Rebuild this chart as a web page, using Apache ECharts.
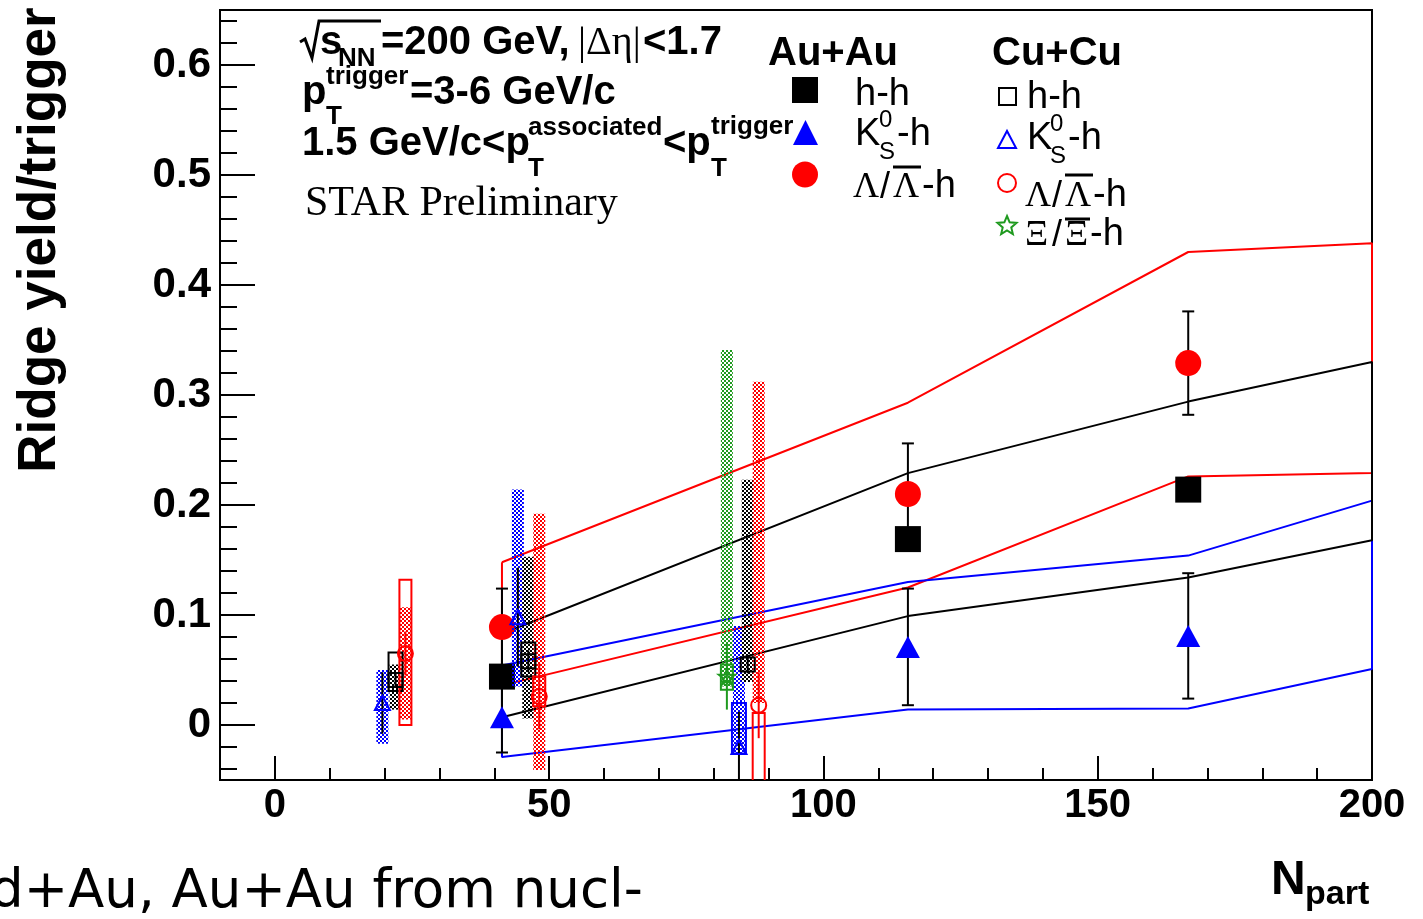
<!DOCTYPE html>
<html>
<head>
<meta charset="utf-8">
<title>Ridge yield/trigger vs Npart</title>
<script src="https://cdn.jsdelivr.net/npm/echarts@6/dist/echarts.min.js"></script>
<style>
    html, body { margin: 0; padding: 0; background: #fff; }
    #chart { width: 1423px; height: 919px; }
</style>
</head>
<body>
<div id="chart"></div>
<script>
// axis tick labels
var xTicks = [0, 50, 100, 150, 200];
var yTicks = [0, 0.1, 0.2, 0.3, 0.4, 0.5, 0.6];

// Au+Au points (filled markers) with stat errors
var auNpart = [41.4, 115.4, 166.5];
var auHH = [0.044, 0.169, 0.214];
var auHHErr = [0.004, 0.004, 0.004];
var auK0 = [0.007, 0.071, 0.081];
var auK0Err = [0.032, 0.053, 0.057];
var auLam = [0.089, 0.210, 0.329];
var auLamErr = [0.035, 0.046, 0.047];

// Au+Au systematic bands (upper / lower edges)
var bandNpart = [41.4, 115.4, 166.5, 200];
var hhUp = [0.083, 0.229, 0.294, 0.330];
var hhLo = [0.007, 0.099, 0.134, 0.168];
var k0Up = [0.054, 0.130, 0.154, 0.204];
var k0Lo = [-0.029, 0.014, 0.015, 0.051];
var lamUp = [0.148, 0.293, 0.430, 0.438];
var lamLo = [0.036, 0.125, 0.226, 0.229];

// Cu+Cu points (open markers)
var cuHHNpart = [22.0, 46.2, 86.2];
var cuHH = [0.041, 0.058, 0.055];
var cuHHErr = [0.006, 0.010, 0.008];
var cuHHSysLo = [0.014, 0.006, 0.039];
var cuHHSysHi = [0.055, 0.153, 0.223];
var cuHHBoxNpart = [22.0, 46.2];
var cuHHBoxLo = [0.031, 0.044];
var cuHHBoxHi = [0.066, 0.075];

var cuK0Npart = [19.6, 44.3, 84.6];
var cuK0 = [0.020, 0.098, -0.020];
var cuK0Err = [0.028, 0.045, 0.032];
var cuK0SysLo = [-0.017, 0.035, -0.026];
var cuK0SysHi = [0.050, 0.214, 0.090];
var cuK0BoxNpart = [84.6];
var cuK0BoxLo = [-0.026];
var cuK0BoxHi = [0.020];

var cuLamNpart = [23.8, 48.2, 88.2];
var cuLam = [0.065, 0.026, 0.018];
var cuLamErr = [0.020, 0.030, 0.030];
var cuLamSysLo = [0.005, -0.041, 0.020];
var cuLamSysHi = [0.107, 0.192, 0.312];
var cuLamBoxLo = [0.0, 0.017, -0.080];
var cuLamBoxHi = [0.132, 0.044, 0.011];

var cuXiNpart = [82.4];
var cuXi = [0.044];
var cuXiErr = [0.030];
var cuXiSysLo = [0.035];
var cuXiSysHi = [0.341];
var cuXiBoxLo = [0.032];
var cuXiBoxHi = [0.055];

var RED = "#ff0000", BLUE = "#0000ff", BLACK = "#000000", GREEN = "#1f9a1f";
var SANS = '"Liberation Sans", Arial, sans-serif';
var SERIF = '"Liberation Serif", "Times New Roman", serif';

var xMinor = [];
for (var v = -10; v <= 190; v += 10) {
    if (v % 50 !== 0) xMinor.push(v);
}
var yMinor = [];
for (var k = -2; k <= 32; k++) {
    if (k % 5 !== 0) yMinor.push(Math.round(k * 2) / 100);
}

function pairs(xs, ys) {
    return xs.map(function (x, i) { return [x, ys[i]]; });
}

// closed outline of a band: upper edge left->right, lower edge back
function band(up, lo, color) {
    var pts = pairs(bandNpart, up);
    for (var i = bandNpart.length - 1; i >= 0; i--) pts.push([bandNpart[i], lo[i]]);
    pts.push(pts[0]);
    return {
        type: "line", data: pts, symbol: "none", z: 1, silent: true, clip: true,
        lineStyle: {color: color, width: 2}
    };
}

function errBars(xs, ys, errs, color, capHalf, z) {
    return {
        type: "custom", z: z, clip: true, silent: true,
        data: xs.map(function (x, i) { return [x, ys[i] - errs[i], ys[i] + errs[i]]; }),
        renderItem: function (params, api) {
            var lo = api.coord([api.value(0), api.value(1)]);
            var hi = api.coord([api.value(0), api.value(2)]);
            var st = {stroke: color, lineWidth: 2};
            var ch = [{type: "line", shape: {x1: lo[0], y1: lo[1], x2: hi[0], y2: hi[1]}, style: st}];
            if (capHalf) {
                ch.push({type: "line", shape: {x1: lo[0] - capHalf, y1: lo[1], x2: lo[0] + capHalf, y2: lo[1]}, style: st});
                ch.push({type: "line", shape: {x1: hi[0] - capHalf, y1: hi[1], x2: hi[0] + capHalf, y2: hi[1]}, style: st});
            }
            return {type: "group", children: ch};
        }
    };
}

// dotted fill like ROOT's pattern fill (2px dots on a 4px lattice)
function hatch(color) {
    var c = document.createElement("canvas");
    c.width = 4;
    c.height = 4;
    var g = c.getContext("2d");
    g.fillStyle = color;
    g.fillRect(0, 0, 2, 2);
    g.fillRect(2, 2, 2, 2);
    return {image: c, repeat: "repeat"};
}

function boxes(xs, lo, hi, halfW, fill, stroke, z) {
    return {
        type: "custom", z: z, clip: true, silent: true,
        data: xs.map(function (x, i) { return [x, lo[i], hi[i]]; }),
        renderItem: function (params, api) {
            var a = api.coord([api.value(0), api.value(2)]);
            var b = api.coord([api.value(0), api.value(1)]);
            return {
                type: "rect",
                shape: {x: a[0] - halfW, y: a[1], width: halfW * 2, height: b[1] - a[1]},
                style: fill ? {fill: fill} : {fill: "none", stroke: stroke, lineWidth: 2}
            };
        }
    };
}

function markers(xs, ys, symbol, size, style, z) {
    return {
        type: "scatter", z: z, silent: true, clip: true,
        data: pairs(xs, ys), symbol: symbol, symbolSize: size, itemStyle: style
    };
}

function openStyle(color) {
    return {color: "rgba(0,0,0,0)", borderColor: color, borderWidth: 2, opacity: 1};
}

function starPoints(cx, cy, r) {
    var pts = [];
    for (var i = 0; i < 10; i++) {
        var a = -Math.PI / 2 + i * Math.PI / 5;
        var rr = i % 2 === 0 ? r : r * 0.45;
        pts.push([cx + rr * Math.cos(a), cy + rr * Math.sin(a)]);
    }
    return pts;
}
var STAR = "path://M50,0 L61,35 L98,35 L68,57 L79,91 L50,70 L21,91 L32,57 L2,35 L39,35 Z";

// text piece placed by its baseline
function txt(x, base, s, size, font, weight) {
    return {
        type: "text", x: x, y: base - 0.345 * size, silent: true, z: 100,
        style: {
            text: s, fontSize: size, fontFamily: font || SANS, fontWeight: weight || "bold",
            fill: "#000", align: "left", verticalAlign: "middle"
        }
    };
}
function seg(points, color, w) {
    return {type: "polyline", silent: true, z: 100, shape: {points: points},
        style: {stroke: color || "#000", lineWidth: w || 2, fill: null}};
}

var texts = [
    seg([[300, 42], [305, 39], [312, 58], [319, 21], [381, 21]], "#000", 3),
    txt(320, 57, "s", 40),
    txt(338, 68, "NN", 26),
    txt(381, 57, "=200 GeV,", 40),
    txt(578, 57, "|\u0394\u03b7|", 40, SERIF, "normal"),
    txt(643, 57, "<1.7", 40),
    txt(302, 107, "p", 40),
    txt(326, 86, "trigger", 26),
    txt(326, 126, "T", 26),
    txt(410, 107, "=3-6 GeV/c", 40),
    txt(302, 158, "1.5 GeV/c<p", 40),
    txt(528, 137, "associated", 26),
    txt(528, 178, "T", 26),
    txt(663, 158, "<p", 40),
    txt(711, 136, "trigger", 26),
    txt(711, 178, "T", 26),
    txt(305, 218, "STAR Preliminary", 42, SERIF, "normal"),

    txt(768, 68, "Au+Au", 40),
    txt(992, 68, "Cu+Cu", 40),
    txt(855, 108, "h-h", 38, SANS, "normal"),
    txt(855, 148, "K", 38, SANS, "normal"),
    txt(879, 129, "0", 24, SANS, "normal"),
    txt(879, 161, "S", 24, SANS, "normal"),
    txt(897, 148, "-h", 38, SANS, "normal"),
    txt(853, 200, "\u039b", 36, SERIF, "normal"),
    txt(880, 200, "/", 36, SANS, "normal"),
    txt(893, 200, "\u039b", 36, SERIF, "normal"),
    seg([[893, 167], [921, 167]], "#000", 3),
    txt(922, 200, "-h", 38, SANS, "normal"),
    txt(1027, 111, "h-h", 38, SANS, "normal"),
    txt(1027, 152, "K", 38, SANS, "normal"),
    txt(1050, 133, "0", 24, SANS, "normal"),
    txt(1050, 165, "S", 24, SANS, "normal"),
    txt(1068, 152, "-h", 38, SANS, "normal"),
    txt(1025, 209, "\u039b", 36, SERIF, "normal"),
    txt(1052, 209, "/", 36, SANS, "normal"),
    txt(1065, 209, "\u039b", 36, SERIF, "normal"),
    seg([[1065, 175], [1093, 175]], "#000", 3),
    txt(1093, 209, "-h", 38, SANS, "normal"),
    txt(1025, 248, "\u039e", 36, SERIF, "normal"),
    txt(1052, 248, "/", 36, SANS, "normal"),
    txt(1065, 248, "\u039e", 36, SERIF, "normal"),
    seg([[1065, 219], [1090, 219]], "#000", 3),
    txt(1090, 248, "-h", 38, SANS, "normal"),

    // legend symbols
    {type: "rect", silent: true, z: 100, shape: {x: 792, y: 77, width: 26, height: 26}, style: {fill: BLACK}},
    {type: "polygon", silent: true, z: 100, shape: {points: [[793, 145], [805.5, 120], [818, 145]]}, style: {fill: BLUE}},
    {type: "circle", silent: true, z: 100, shape: {cx: 805, cy: 174.5, r: 13}, style: {fill: RED}},
    {type: "rect", silent: true, z: 100, shape: {x: 999, y: 88, width: 17, height: 17}, style: {fill: "none", stroke: BLACK, lineWidth: 2}},
    {type: "polygon", silent: true, z: 100, shape: {points: [[998, 148], [1007, 131], [1016, 148]]}, style: {fill: "none", stroke: BLUE, lineWidth: 2}},
    {type: "circle", silent: true, z: 100, shape: {cx: 1007, cy: 183, r: 9}, style: {fill: "none", stroke: RED, lineWidth: 2}},
    {type: "polygon", silent: true, z: 100, shape: {points: starPoints(1007, 226, 10)}, style: {fill: "none", stroke: GREEN, lineWidth: 2}},

    // axis titles
    {type: "text", x: 40, y: 240, rotation: Math.PI / 2, silent: true, z: 100,
        style: {text: "Ridge yield/trigger", fontSize: 53, fontFamily: SANS, fontWeight: "bold",
            fill: "#000", align: "center", verticalAlign: "middle"}},
    txt(1271, 897, "N", 48),
    txt(1305, 906, "part", 34),
    txt(-10, 912, "d+Au, Au+Au from nucl-", 53, '"DejaVu Sans", sans-serif', "normal")
];

var series = [
    band(lamUp, lamLo, RED),
    band(k0Up, k0Lo, BLUE),
    band(hhUp, hhLo, BLACK),

    errBars(auNpart, auLam, auLamErr, BLACK, 6, 2),
    errBars(auNpart, auK0, auK0Err, BLACK, 6, 2),
    errBars(auNpart, auHH, auHHErr, BLACK, 6, 2),
    markers(auNpart, auHH, "rect", 26, {color: BLACK, opacity: 1}, 3),
    markers(auNpart, auK0, "triangle", [24, 22], {color: BLUE, opacity: 1}, 3),
    markers(auNpart, auLam, "circle", 26, {color: RED, opacity: 1}, 3),

    boxes(cuXiNpart, cuXiSysLo, cuXiSysHi, 6, hatch(GREEN), null, 4),
    boxes(cuK0Npart, cuK0SysLo, cuK0SysHi, 6, hatch(BLUE), null, 4),
    boxes(cuHHNpart, cuHHSysLo, cuHHSysHi, 6, hatch(BLACK), null, 4),
    boxes(cuLamNpart, cuLamSysLo, cuLamSysHi, 6, hatch(RED), null, 4),

    boxes(cuHHBoxNpart, cuHHBoxLo, cuHHBoxHi, 7, null, BLACK, 5),
    boxes(cuK0BoxNpart, cuK0BoxLo, cuK0BoxHi, 7, null, BLUE, 5),
    boxes(cuLamNpart, cuLamBoxLo, cuLamBoxHi, 6, null, RED, 5),
    boxes(cuXiNpart, cuXiBoxLo, cuXiBoxHi, 6, null, GREEN, 5),

    errBars(cuK0Npart, cuK0, cuK0Err, BLACK, 0, 6),
    errBars(cuHHNpart, cuHH, cuHHErr, BLACK, 0, 6),
    errBars(cuLamNpart, cuLam, cuLamErr, RED, 0, 6),
    errBars(cuXiNpart, cuXi, cuXiErr, GREEN, 0, 6),

    markers(cuHHNpart, cuHH, "rect", 14, openStyle(BLACK), 7),
    markers(cuK0Npart, cuK0, "triangle", [15, 14], openStyle(BLUE), 7),
    markers(cuLamNpart, cuLam, "circle", 15, openStyle(RED), 7),
    markers(cuXiNpart, cuXi, STAR, 16, openStyle(GREEN), 7)
];

var chart = echarts.init(document.getElementById("chart"));
chart.setOption({
    animation: false,
    backgroundColor: "#fff",
    textStyle: {fontFamily: SANS},
    grid: {left: 220, top: 10, width: 1152, height: 770, show: true, borderColor: "#000", borderWidth: 2},
    xAxis: [{
        type: "value", min: -10, max: 200, position: "bottom",
        axisLine: {show: true, onZero: false, lineStyle: {color: "#000", width: 2}},
        axisTick: {show: true, inside: true, length: 24, customValues: xTicks, lineStyle: {color: "#000", width: 2}},
        axisLabel: {show: true, customValues: xTicks, margin: 6, color: "#000", fontSize: 40, fontWeight: "bold", fontFamily: SANS},
        splitLine: {show: false}
    }, {
        type: "value", min: -10, max: 200, position: "bottom",
        axisLine: {show: false, onZero: false},
        axisTick: {show: true, inside: true, length: 12, customValues: xMinor, lineStyle: {color: "#000", width: 2}},
        axisLabel: {show: false},
        splitLine: {show: false}
    }],
    yAxis: [{
        type: "value", min: -0.05, max: 0.65, position: "left",
        axisLine: {show: true, onZero: false, lineStyle: {color: "#000", width: 2}},
        axisTick: {show: true, inside: true, length: 35, customValues: yTicks, lineStyle: {color: "#000", width: 2}},
        axisLabel: {
            show: true, customValues: yTicks, margin: 9, color: "#000", fontSize: 42, fontWeight: "bold", fontFamily: SANS,
            formatter: function (val) { return val === 0 ? "0" : val.toFixed(1); }
        },
        splitLine: {show: false}
    }, {
        type: "value", min: -0.05, max: 0.65, position: "left",
        axisLine: {show: false, onZero: false},
        axisTick: {show: true, inside: true, length: 17, customValues: yMinor, lineStyle: {color: "#000", width: 2}},
        axisLabel: {show: false},
        splitLine: {show: false}
    }],
    graphic: {elements: texts},
    series: series
});
</script>
</body>
</html>
